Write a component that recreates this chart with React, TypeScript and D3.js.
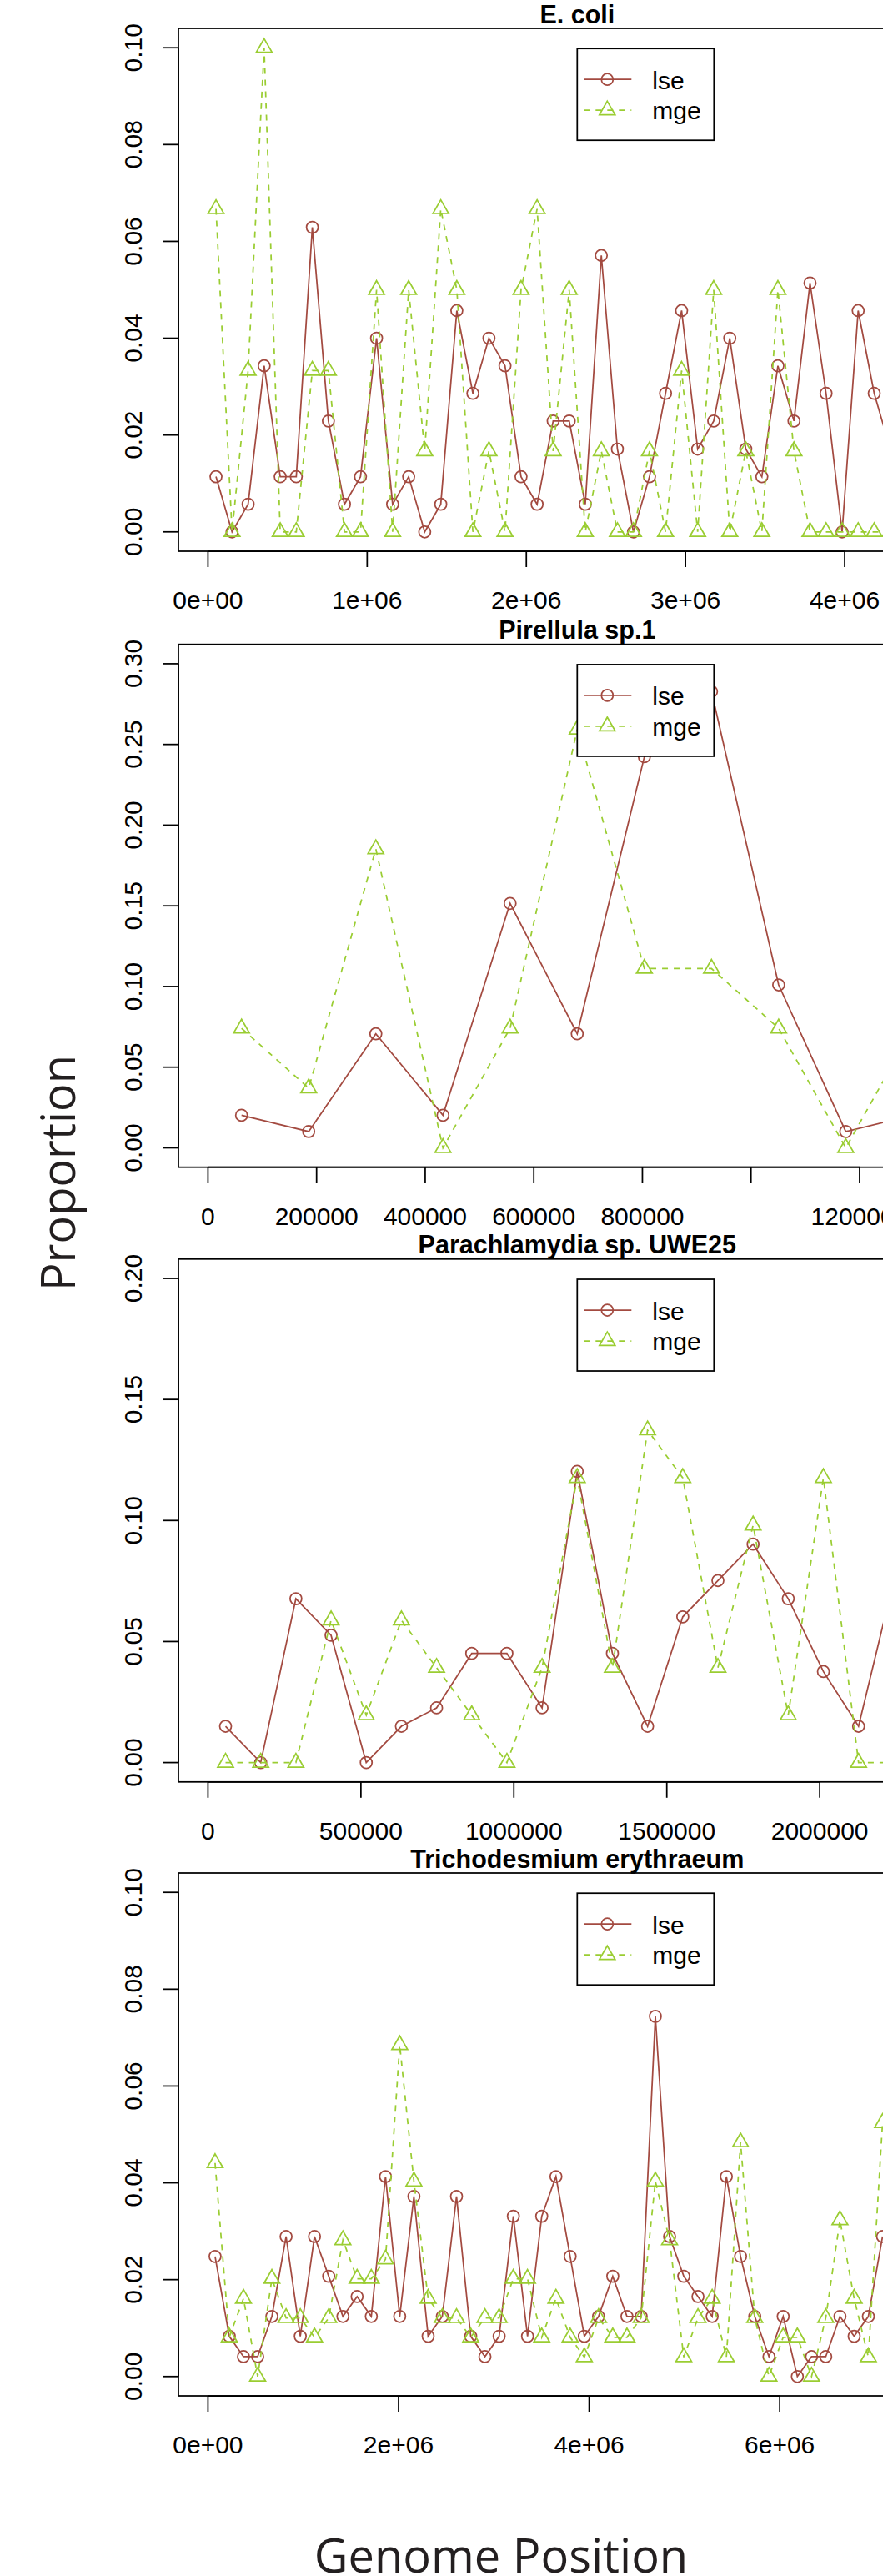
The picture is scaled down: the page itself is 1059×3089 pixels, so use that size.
import React from 'react';
import * as d3 from 'd3';

// bin centres (bp) and proportions
const ecoliPositions = [
  50431, 151293, 252155, 353017, 453879, 554741, 655603, 756465, 857327, 958189,
  1059051, 1159913, 1260775, 1361637, 1462499, 1563361, 1664223, 1765085, 1865947, 1966809,
  2067671, 2168533, 2269395, 2370257, 2471119, 2571981, 2672843, 2773705, 2874567, 2975429,
  3076291, 3177153, 3278015, 3378877, 3479739, 3580601, 3681463, 3782325, 3883187, 3984049,
  4084911, 4185773, 4286635,
];
const ecoliLse = [
  0.0114, 0, 0.0057, 0.0343, 0.0114, 0.0114, 0.0629, 0.0229, 0.0057, 0.0114,
  0.04, 0.0057, 0.0114, 0, 0.0057, 0.0457, 0.0286, 0.04, 0.0343, 0.0114,
  0.0057, 0.0229, 0.0229, 0.0057, 0.0571, 0.0171, 0, 0.0114, 0.0286, 0.0457,
  0.0171, 0.0229, 0.04, 0.0171, 0.0114, 0.0343, 0.0229, 0.0514, 0.0286, 0,
  0.0457, 0.0286, 0.0171,
];
const ecoliMge = [
  0.0667, 0, 0.0333, 0.1, 0, 0, 0.0333, 0.0333, 0, 0,
  0.05, 0, 0.05, 0.0167, 0.0667, 0.05, 0, 0.0167, 0, 0.05,
  0.0667, 0.0167, 0.05, 0, 0.0167, 0, 0, 0.0167, 0, 0.0333,
  0, 0.05, 0, 0.0167, 0, 0.05, 0.0167, 0, 0, 0,
  0, 0, 0,
];

const pirellulaPositions = [
  61818, 185455, 309091, 432727, 556364, 680000, 803636, 927273, 1050909, 1174545, 1298182,
];
const pirellulaLse = [0.0202, 0.0101, 0.0707, 0.0202, 0.1515, 0.0707, 0.2424, 0.2828, 0.101, 0.0101, 0.0202];
const pirellulaMge = [0.0741, 0.037, 0.1852, 0, 0.0741, 0.2593, 0.1111, 0.1111, 0.0741, 0, 0.0741];

const parachlamydiaPositions = [
  57488, 172463, 287438, 402413, 517388, 632363, 747338, 862313, 977288, 1092263,
  1207238, 1322213, 1437188, 1552163, 1667138, 1782113, 1897088, 2012063, 2127038, 2242013,
];
const parachlamydiaLse = [
  0.015, 0, 0.0677, 0.0526, 0, 0.015, 0.0226, 0.0451, 0.0451, 0.0226,
  0.1203, 0.0451, 0.015, 0.0602, 0.0752, 0.0902, 0.0677, 0.0376, 0.015, 0.0752,
];
const parachlamydiaMge = [
  0, 0, 0, 0.0588, 0.0196, 0.0588, 0.0392, 0.0196, 0, 0.0392,
  0.1176, 0.0392, 0.1373, 0.1176, 0.0392, 0.098, 0.0196, 0.1176, 0, 0,
];

const trichoPositions = [
  74520, 223561, 372602, 521642, 670683, 819723, 968764, 1117804, 1266845, 1415885,
  1564926, 1713966, 1863007, 2012047, 2161088, 2310128, 2459169, 2608209, 2757250, 2906290,
  3055331, 3204371, 3353412, 3502452, 3651493, 3800533, 3949574, 4098614, 4247655, 4396695,
  4545736, 4694776, 4843817, 4992857, 5141898, 5290938, 5439979, 5589019, 5738060, 5887100,
  6036141, 6185181, 6334222, 6483262, 6632303, 6781343, 6930384, 7079424,
];
const trichoLse = [
  0.0248, 0.0083, 0.0041, 0.0041, 0.0124, 0.0289, 0.0083, 0.0289, 0.0207, 0.0124,
  0.0165, 0.0124, 0.0413, 0.0124, 0.0372, 0.0083, 0.0124, 0.0372, 0.0083, 0.0041,
  0.0083, 0.0331, 0.0083, 0.0331, 0.0413, 0.0248, 0.0083, 0.0124, 0.0207, 0.0124,
  0.0124, 0.0744, 0.0289, 0.0207, 0.0165, 0.0124, 0.0413, 0.0248, 0.0124, 0.0041,
  0.0124, 0, 0.0041, 0.0041, 0.0124, 0.0083, 0.0124, 0.0289,
];
const trichoMge = [
  0.0441, 0.0081, 0.0161, 0, 0.0202, 0.0121, 0.0121, 0.0081, 0.0121, 0.0282,
  0.0202, 0.0202, 0.0242, 0.0685, 0.0403, 0.0161, 0.0121, 0.0121, 0.0081, 0.0121,
  0.0121, 0.0202, 0.0202, 0.0081, 0.0161, 0.0081, 0.004, 0.0121, 0.0081, 0.0081,
  0.0121, 0.0403, 0.0282, 0.004, 0.0121, 0.0161, 0.004, 0.0484, 0.0121, 0,
  0.0081, 0.0081, 0, 0.0121, 0.0323, 0.0161, 0.004, 0.0524,
];

// axis ticks and their labels (R drops the ones that would overlap)
const ecoliXTicks = [0, 1e6, 2e6, 3e6, 4e6];
const ecoliXLabels = ['0e+00', '1e+06', '2e+06', '3e+06', '4e+06'];
const pirellulaXTicks = [0, 200000, 400000, 600000, 800000, 1000000, 1200000];
const pirellulaXLabels = ['0', '200000', '400000', '600000', '800000', '', '1200000'];
const parachlamydiaXTicks = [0, 500000, 1000000, 1500000, 2000000];
const parachlamydiaXLabels = ['0', '500000', '1000000', '1500000', '2000000'];
const trichoXTicks = [0, 2e6, 4e6, 6e6];
const trichoXLabels = ['0e+00', '2e+06', '4e+06', '6e+06'];

const yTicks010 = [0, 0.02, 0.04, 0.06, 0.08, 0.1];
const yLabels010 = ['0.00', '0.02', '0.04', '0.06', '0.08', '0.10'];
const yTicks030 = [0, 0.05, 0.1, 0.15, 0.2, 0.25, 0.3];
const yLabels030 = ['0.00', '0.05', '0.10', '0.15', '0.20', '0.25', '0.30'];
const yTicks020 = [0, 0.05, 0.1, 0.15, 0.2];
const yLabels020 = ['0.00', '0.05', '0.10', '0.15', '0.20'];

const seriesNames = ['lse', 'mge'];

const panels = [
  { title: 'E. coli', length: 4639675, yMax: 0.1, pos: ecoliPositions, lse: ecoliLse, mge: ecoliMge,
    xTicks: ecoliXTicks, xLabels: ecoliXLabels, yTicks: yTicks010, yLabels: yLabels010 },
  { title: 'Pirellula sp.1', length: 1360000, yMax: 0.3, pos: pirellulaPositions, lse: pirellulaLse, mge: pirellulaMge,
    xTicks: pirellulaXTicks, xLabels: pirellulaXLabels, yTicks: yTicks030, yLabels: yLabels030 },
  { title: 'Parachlamydia sp. UWE25', length: 2414465, yMax: 0.2, pos: parachlamydiaPositions,
    lse: parachlamydiaLse, mge: parachlamydiaMge,
    xTicks: parachlamydiaXTicks, xLabels: parachlamydiaXLabels, yTicks: yTicks020, yLabels: yLabels020 },
  { title: 'Trichodesmium erythraeum', length: 7750108, yMax: 0.1, pos: trichoPositions, lse: trichoLse, mge: trichoMge,
    xTicks: trichoXTicks, xLabels: trichoXLabels, yTicks: yTicks010, yLabels: yLabels010 },
];

const W = 1059;
const H = 3089;
const PLOT_LEFT = 214;
const PLOT_RIGHT = 1170.6;
const PLOT_H = 627;
const PANEL_TOPS = [34, 772.7, 1509.8, 2246];
const LSE_COL = '#A34A40';
const MGE_COL = '#9ACD32';
const LWD = 1.75;
const PCH_R = 7;
const FONT = '"Liberation Sans", Arial, Helvetica, sans-serif';

// R's pch = 2 triangle around (cx, cy)
function triangle(cx: number, cy: number) {
  const r = 1.5551 * PCH_R;
  const xc = 1.3468 * PCH_R;
  const yc = 0.7776 * PCH_R;
  return `M${cx},${cy - r}L${cx + xc},${cy + yc}L${cx - xc},${cy + yc}Z`;
}

function Legend({ x0, y0 }: { x0: number; y0: number }) {
  return (
    <g>
      <rect x={x0} y={y0} width={164} height={110} fill="white" stroke="black" strokeWidth={LWD} />
      <line x1={x0 + 8} x2={x0 + 65} y1={y0 + 37} y2={y0 + 37} stroke={LSE_COL} strokeWidth={LWD} />
      <circle cx={x0 + 36} cy={y0 + 37} r={PCH_R} fill="none" stroke={LSE_COL} strokeWidth={LWD} />
      <line x1={x0 + 8} x2={x0 + 65} y1={y0 + 74} y2={y0 + 74} stroke={MGE_COL} strokeWidth={LWD}
        strokeDasharray="7 7" />
      <path d={triangle(x0 + 36, y0 + 74)} fill="none" stroke={MGE_COL} strokeWidth={LWD} />
      <text x={x0 + 90} y={y0 + 48.5} fontSize={30} fontFamily={FONT}>{seriesNames[0]}</text>
      <text x={x0 + 90} y={y0 + 85} fontSize={30} fontFamily={FONT}>{seriesNames[1]}</text>
    </g>
  );
}

function Panel({ p, top }: { p: (typeof panels)[number]; top: number }) {
  const bottom = top + PLOT_H;
  const x = d3.scaleLinear().domain([-0.04 * p.length, 1.04 * p.length]).range([PLOT_LEFT, PLOT_RIGHT]);
  const y = d3.scaleLinear().domain([-0.04 * p.yMax, 1.04 * p.yMax]).range([bottom, top]);
  const line = d3.line<number>().x((_, i) => x(p.pos[i])).y((d) => y(d));
  const midX = x(p.length / 2);

  return (
    <g>
      <text x={midX} y={top - 6.5} textAnchor="middle" fontSize={30.5} fontWeight="bold" fontFamily={FONT}>
        {p.title}
      </text>

      {/* y axis */}
      <line x1={PLOT_LEFT} x2={PLOT_LEFT} y1={y(p.yTicks[0])} y2={y(p.yTicks[p.yTicks.length - 1])}
        stroke="black" strokeWidth={LWD} />
      {p.yTicks.map((t, i) => (
        <g key={'y' + i}>
          <line x1={PLOT_LEFT - 19} x2={PLOT_LEFT} y1={y(t)} y2={y(t)} stroke="black" strokeWidth={LWD} />
          <text transform={`translate(170,${y(t)}) rotate(-90)`} textAnchor="middle" fontSize={30}
            fontFamily={FONT}>{p.yLabels[i]}</text>
        </g>
      ))}

      {/* x axis */}
      <line x1={x(p.xTicks[0])} x2={x(p.xTicks[p.xTicks.length - 1])} y1={bottom} y2={bottom}
        stroke="black" strokeWidth={LWD} />
      {p.xTicks.map((t, i) => (
        <g key={'x' + i}>
          <line x1={x(t)} x2={x(t)} y1={bottom} y2={bottom + 19} stroke="black" strokeWidth={LWD} />
          <text x={x(t)} y={bottom + 69} textAnchor="middle" fontSize={30} fontFamily={FONT}>{p.xLabels[i]}</text>
        </g>
      ))}

      {/* lse */}
      <path d={line(p.lse) || ''} fill="none" stroke={LSE_COL} strokeWidth={LWD} />
      {p.lse.map((v, i) => (
        <circle key={'c' + i} cx={x(p.pos[i])} cy={y(v)} r={PCH_R} fill="none" stroke={LSE_COL} strokeWidth={LWD} />
      ))}

      {/* mge */}
      <path d={line(p.mge) || ''} fill="none" stroke={MGE_COL} strokeWidth={LWD} strokeDasharray="7 7" />
      {p.mge.map((v, i) => (
        <path key={'t' + i} d={triangle(x(p.pos[i]), y(v))} fill="none" stroke={MGE_COL} strokeWidth={LWD} />
      ))}

      <Legend x0={midX} y0={y(p.yMax) + 1} />

      <rect x={PLOT_LEFT} y={top} width={PLOT_RIGHT - PLOT_LEFT} height={PLOT_H} fill="none"
        stroke="black" strokeWidth={LWD} />
    </g>
  );
}

export default function App() {
  return (
    <svg width={W} height={H} style={{ position: 'absolute', left: 0, top: 0, background: 'white' }}>
      <rect width={W} height={H} fill="white" />
      {panels.map((p, i) => (
        <Panel key={p.title} p={p} top={PANEL_TOPS[i]} />
      ))}
      <text transform="translate(90,1406.5) rotate(-90)" textAnchor="middle" fontSize={56}
        fontFamily='"Open Sans", "Noto Sans", sans-serif' fill="#231f20">Proportion</text>
      <text x={601} y={3085} textAnchor="middle" fontSize={56}
        fontFamily='"Open Sans", "Noto Sans", sans-serif' fill="#231f20">Genome Position</text>
    </svg>
  );
}
